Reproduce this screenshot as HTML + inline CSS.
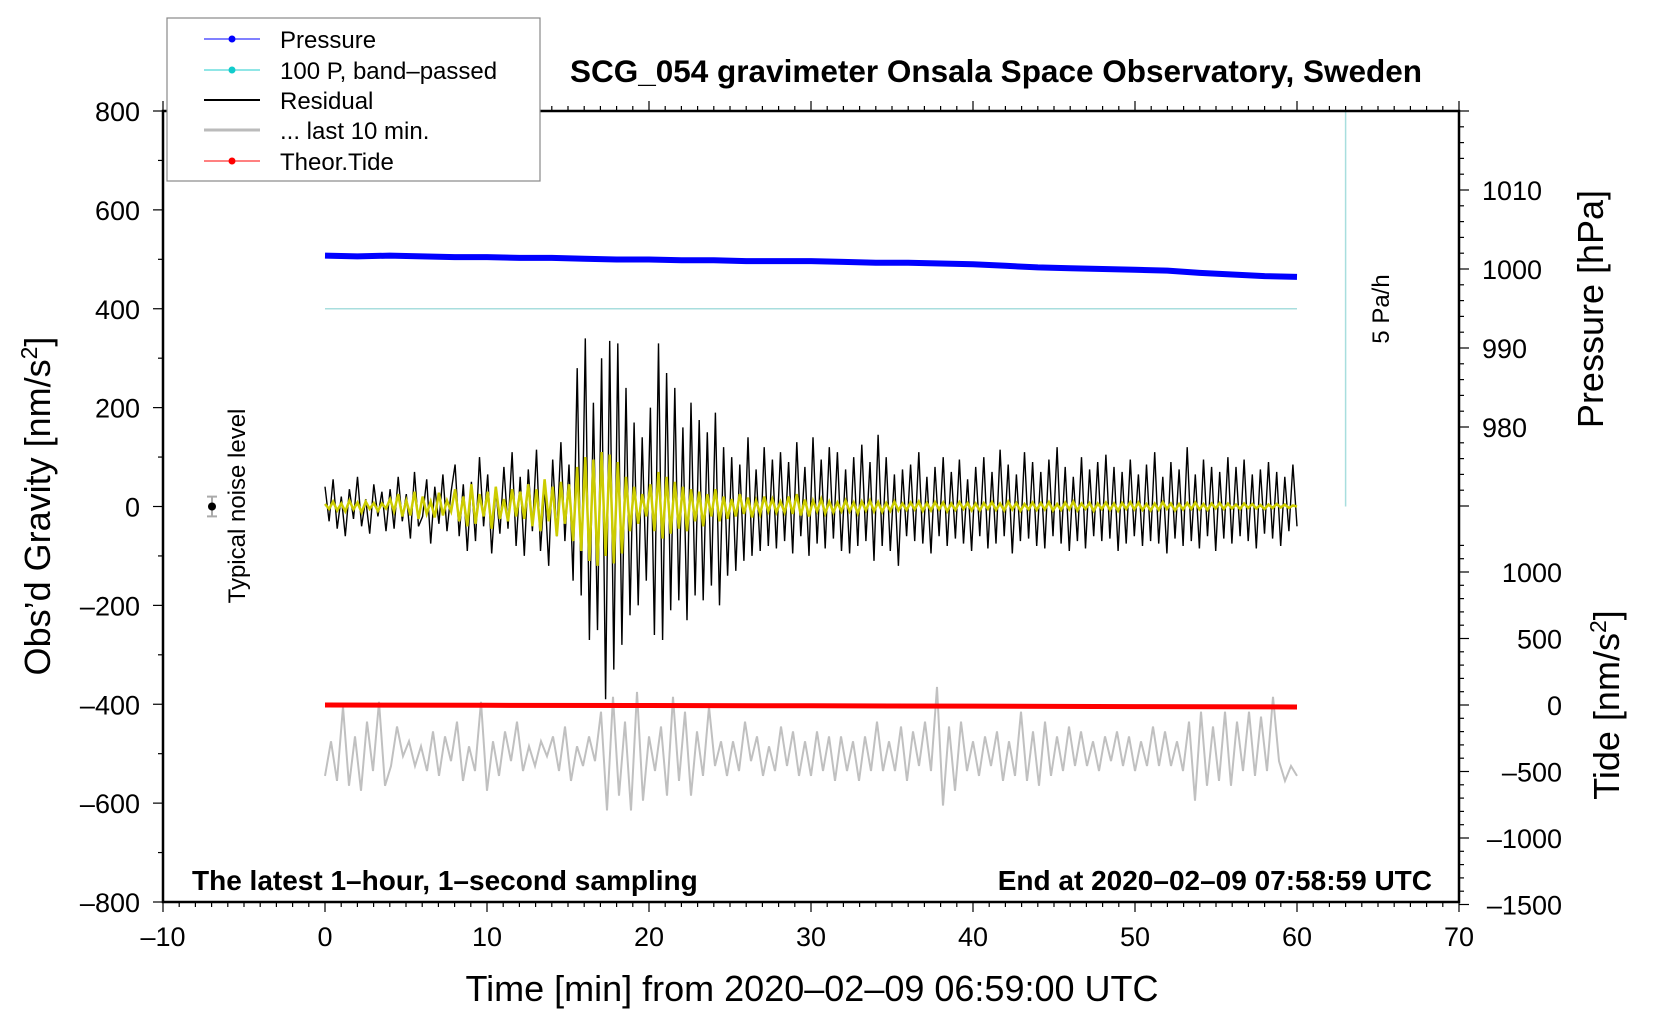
<!DOCTYPE html>
<html><head><meta charset="utf-8"><style>
html,body{margin:0;padding:0;background:#fff;}
svg{display:block;font-family:"Liberation Sans",Arial,sans-serif;}
</style></head><body>
<svg id="chart" width="1660" height="1020" viewBox="0 0 1660 1020" xmlns="http://www.w3.org/2000/svg">
<rect x="0" y="0" width="1660" height="1020" fill="#fff"/>
<g id="marks"></g>
<g id="axes"></g>
<text x="996" y="82" font-size="31.5" font-weight="bold" text-anchor="middle">SCG_054 gravimeter Onsala Space Observatory, Sweden</text>
<text x="192" y="890" font-size="28" font-weight="bold">The latest 1–hour, 1–second sampling</text>
<text x="1432" y="890" font-size="28" font-weight="bold" text-anchor="end">End at 2020–02–09 07:58:59 UTC</text>
<text x="812" y="1001" font-size="36" text-anchor="middle">Time [min] from 2020–02–09 06:59:00 UTC</text>
<text transform="translate(50,506) rotate(-90)" font-size="36" text-anchor="middle">Obs’d Gravity [nm/s<tspan dy="-13" font-size="23">2</tspan><tspan dy="13">]</tspan></text>
<text transform="translate(1603,309) rotate(-90)" font-size="36" text-anchor="middle">Pressure [hPa]</text>
<text transform="translate(1619,705) rotate(-90)" font-size="36" text-anchor="middle">Tide [nm/s<tspan dy="-13" font-size="23">2</tspan><tspan dy="13">]</tspan></text>
<text transform="translate(1389,309) rotate(-90)" font-size="24" text-anchor="middle">5 Pa/h</text>
<text transform="translate(245,506) rotate(-90)" font-size="24" text-anchor="middle">Typical noise level</text>
<g>
<rect x="167" y="18" width="373" height="163" fill="#fff" stroke="#888" stroke-width="1.2"/>
<g><line x1="204" y1="39" x2="260" y2="39" stroke="#00f" stroke-width="1"/><circle cx="232" cy="39" r="3.5" fill="#00f"/><text x="280" y="48" font-size="24">Pressure</text></g>
<g><line x1="204" y1="70" x2="260" y2="70" stroke="#2cc" stroke-width="1"/><circle cx="232" cy="70" r="3.5" fill="#1cc"/><text x="280" y="79" font-size="24">100 P, band–passed</text></g>
<g><line x1="204" y1="100" x2="260" y2="100" stroke="#000" stroke-width="2"/><text x="280" y="109" font-size="24">Residual</text></g>
<g><line x1="204" y1="130" x2="260" y2="130" stroke="#bbb" stroke-width="3"/><text x="280" y="139" font-size="24">... last 10 min.</text></g>
<g><line x1="204" y1="161" x2="260" y2="161" stroke="#f00" stroke-width="1"/><circle cx="232" cy="161" r="3.5" fill="#f00"/><text x="280" y="170" font-size="24">Theor.Tide</text></g>
</g>
</svg>
<script>
const residual=[40,-30,55,-45,20,-60,35,-25,60,-40,15,-55,45,-20,30,-50,
35,-45,60,-30,25,-65,70,-40,-20,55,-75,40,-35,65,-50,30,
85,-60,45,-90,50,-70,100,-40,65,-95,35,-55,80,-45,110,-80,
60,-100,75,-50,115,-90,40,-120,95,-60,130,-70,85,-150,280,-180,
340,-270,210,-250,300,-390,335,-330,330,-280,240,-220,170,-200,140,-150,
200,-260,330,-270,270,-210,240,-190,160,-230,210,-180,175,-190,150,-160,
190,-200,120,-140,100,-130,85,-110,140,-100,75,-90,120,-80,95,-85,
110,-70,90,-95,130,-60,80,-100,140,-75,95,-85,120,-65,110,-90,
75,-95,100,-80,125,-70,90,-110,145,-80,100,-90,65,-120,75,-60,
85,-70,110,-75,60,-95,80,-60,100,-80,70,-65,95,-75,55,-90,
80,-60,100,-85,70,-75,115,-60,85,-95,65,-70,110,-65,90,-80,
70,-85,95,-60,120,-75,80,-90,60,-70,100,-85,75,-60,90,-70,
105,-65,80,-90,70,-75,95,-60,65,-80,85,-70,110,-75,60,-95,
90,-65,75,-80,120,-70,65,-85,95,-60,80,-90,70,-65,100,-75,
80,-60,95,-70,65,-85,75,-55,90,-65,70,-80,60,-50,85,-40];
const filtered=[5,-5,10,-8,6,-10,12,-6,8,-12,10,-5,7,-9,6,-4,
15,-10,25,-20,12,-18,30,-25,20,-15,10,-22,28,-18,12,-10,
35,-30,20,-40,45,-35,25,-20,30,-45,40,-25,15,-30,35,-20,
30,-25,45,-40,35,-50,55,-30,40,-60,50,-35,45,-70,80,-90,
100,-110,95,-120,110,-100,105,-115,90,-95,60,-50,40,-35,25,-20,
45,-50,70,-65,60,-55,50,-45,40,-50,35,-30,30,-40,25,-20,
35,-30,20,-25,15,-20,25,-15,18,-22,12,-15,20,-10,15,-12,
10,-12,20,-15,25,-18,14,-20,12,-10,15,-14,10,-12,8,-10,
12,-10,8,-14,10,-8,12,-10,9,-11,7,-9,10,-8,6,-7,
8,-6,10,-9,7,-8,9,-6,8,-10,6,-7,9,-5,7,-8,
6,-8,7,-5,9,-7,6,-8,10,-6,7,-9,5,-6,8,-7,
7,-6,9,-8,5,-7,8,-6,10,-8,6,-5,7,-9,6,-5,
8,-7,6,-9,7,-5,9,-6,8,-7,5,-8,6,-7,9,-5,
6,-8,5,-6,7,-5,8,-6,5,-7,6,-4,7,-5,6,-4,
4,-5,6,-3,5,-4,3,-5,4,-3,5,-2,4,-3,2,0];
const last10Base=-495;
const last10=[-50,20,-60,90,-70,30,-80,60,-40,100,-70,-30,50,-10,20,-30,10,-40,40,-50,
30,-20,60,-60,10,-40,100,-80,20,-50,40,-20,60,-40,10,-30,20,-10,30,-40,
50,-60,10,-30,30,-20,80,-120,110,-90,60,-120,120,-100,30,-40,50,-90,110,-60,
80,-90,40,-50,90,-30,20,-50,20,-40,60,-20,30,-50,10,-40,50,-30,40,-50,
20,-50,40,-40,30,-60,30,-40,20,-60,30,-40,60,-40,20,-40,50,-60,40,-30,
60,-40,130,-110,50,-80,60,-40,20,-50,30,-30,40,-60,20,-50,80,-60,40,-70,
60,-50,30,-40,50,-30,40,-30,20,-40,30,-20,40,-30,30,-40,20,-30,50,-30,
40,-30,20,-40,60,-100,80,-70,50,-60,80,-70,60,-40,80,-50,70,-40,110,-20,-60,-30,-50];
const pressure=[1001.7,1001.6,1001.7,1001.6,1001.5,1001.5,1001.4,1001.4,1001.3,1001.2,1001.2,1001.1,1001.1,1001.0,1001.0,1001.0,1000.9,1000.8,1000.8,1000.7,1000.6,1000.4,1000.2,1000.1,1000.0,999.9,999.8,999.5,999.3,999.1,999.0];
const tide=[0,-2,-4,-6,-8,-12,-15];
const bandPassed=[400,400];
const xTicks=[-10,0,10,20,30,40,50,60,70];
const yTicks=[800,600,400,200,0,-200,-400,-600,-800];
const pTicks=[1010,1000,990,980];
const tTicks=[1000,500,0,-500,-1000,-1500];

const L=163,R=1459,T=111,B=902;
const X=t=>L+(t+10)*(R-L)/80;
const Y=v=>506.5-v*(B-T)/1600;
const YP=p=>269-(p-1000)*7.9;
const YT=v=>705-v*0.133;
const NS='http://www.w3.org/2000/svg';
const marks=document.getElementById('marks'), axes=document.getElementById('axes');
function mk(tag,attrs,parent){const e=document.createElementNS(NS,tag);for(const k in attrs)e.setAttribute(k,attrs[k]);parent.appendChild(e);return e;}
function poly(vals,tmax,fy){const n=vals.length;return vals.map((v,i)=>X(i*tmax/(n-1)).toFixed(1)+','+fy(v).toFixed(1)).join(' ');}

let e;
e=mk('line',{x1:X(63),y1:T,x2:X(63),y2:Y(0),stroke:'#a8dede','stroke-width':1.5},marks);


e=mk('polyline',{points:poly(bandPassed,60,Y),fill:'none',stroke:'#a8dede','stroke-width':1.5},marks);


e=mk('polyline',{points:poly(pressure,60,YP),fill:'none',stroke:'#00f','stroke-width':6,'stroke-linejoin':'round'},marks);


e=mk('polyline',{points:poly(residual,60,Y),fill:'none',stroke:'#000','stroke-width':1.4},marks);


e=mk('polyline',{points:poly(filtered,60,Y),fill:'none',stroke:'#cccc00','stroke-width':2.5},marks);


e=mk('polyline',{points:poly(last10.map(v=>v+last10Base),60,Y),fill:'none',stroke:'#c0c0c0','stroke-width':2},marks);


e=mk('polyline',{points:poly(tide,60,YT),fill:'none',stroke:'#f00','stroke-width':5},marks);


e=mk('line',{x1:212,y1:Y(20),x2:212,y2:Y(-20),stroke:'#aaa','stroke-width':2},marks);


mk('line',{x1:207,y1:Y(20),x2:217,y2:Y(20),stroke:'#aaa','stroke-width':2},marks);
mk('line',{x1:207,y1:Y(-20),x2:217,y2:Y(-20),stroke:'#aaa','stroke-width':2},marks);
e=mk('circle',{cx:212,cy:Y(0),r:4,fill:'#000'},marks);



e=mk('rect',{x:L,y:T,width:R-L,height:B-T,fill:'none',stroke:'#000','stroke-width':2.5},axes);


for(let t=-10;t<=70;t++){const maj=t%10===0;mk('line',{x1:X(t),y1:B,x2:X(t),y2:B+(maj?10:5),stroke:'#000','stroke-width':1.2},axes);mk('line',{x1:X(t),y1:T,x2:X(t),y2:T-(maj?10:5),stroke:'#000','stroke-width':1.2},axes);}
xTicks.forEach(t=>{const tx=mk('text',{x:X(t),y:946,'font-size':27,'text-anchor':'middle'},axes);tx.textContent=String(t).replace('-','–');

});
for(let v=-800;v<=800;v+=100){const maj=v%200===0;mk('line',{x1:L,y1:Y(v),x2:L-(maj?10:5),y2:Y(v),stroke:'#000','stroke-width':1.2},axes);}
yTicks.forEach(v=>{const tx=mk('text',{x:140,y:Y(v)+10,'font-size':27,'text-anchor':'end'},axes);tx.textContent=String(v).replace('-','–');

});
for(let p=970;p<=1020;p+=2){if(YP(p)<T)continue;const maj=p%10===0;mk('line',{x1:R,y1:YP(p),x2:R+(maj?10:5),y2:YP(p),stroke:'#000','stroke-width':1.2},axes);}
pTicks.forEach(p=>{const tx=mk('text',{x:1482,y:YP(p)+10,'font-size':27},axes);tx.textContent=p;

});
for(let v=-1500;v<=1200;v+=100){const maj=v%500===0;mk('line',{x1:R,y1:YT(v),x2:R+(maj?10:5),y2:YT(v),stroke:'#000','stroke-width':1.2},axes);}
tTicks.forEach(v=>{const tx=mk('text',{x:1562,y:YT(v)+10,'font-size':27,'text-anchor':'end'},axes);tx.textContent=String(v).replace('-','–');

});
</script>
</body></html>
